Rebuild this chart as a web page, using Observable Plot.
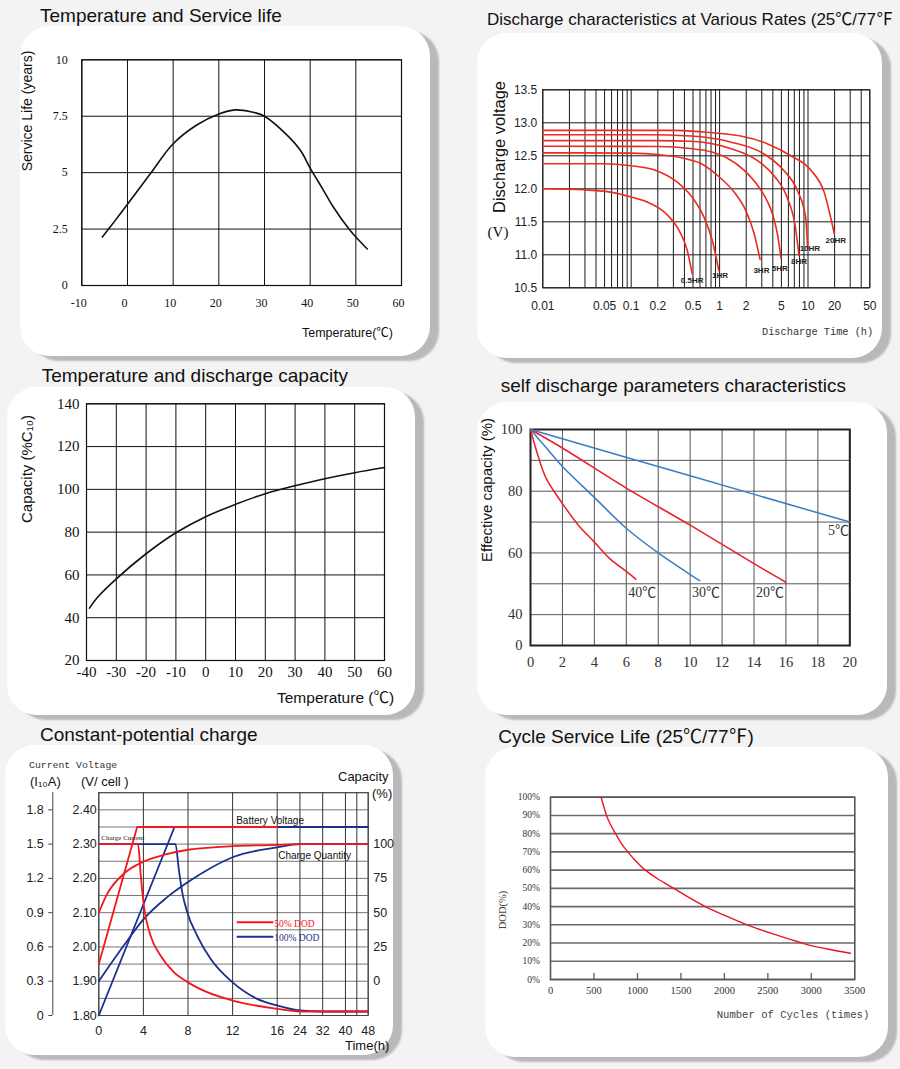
<!DOCTYPE html>
<html>
<head>
<meta charset="utf-8">
<script src="https://cdn.jsdelivr.net/npm/d3@7"></script>
<script src="https://cdn.jsdelivr.net/npm/@observablehq/plot@0.6"></script>
<style>
html,body{margin:0;padding:0;}
body{width:900px;height:1069px;background:#f3f3f3;position:relative;overflow:hidden;font-family:"Liberation Sans",Arial,"Noto Sans CJK SC",sans-serif;}
#root{position:absolute;left:0;top:0;width:900px;height:1069px;}
.card{position:absolute;background:#fff;border-radius:30px;box-shadow:9px 5px 2px #b9b9b9;}
.plot{position:absolute;}
.plot svg{overflow:visible;}
#overlay{position:absolute;left:0;top:0;z-index:5;pointer-events:none;}
</style>
</head>
<body>
<div id="root"></div>
<script>
// ---------------- DATA ----------------
// Panel 1: Temperature and Service life
const lifeTemp  = [-5.5, -2.5, 0, 5, 10, 15, 20, 23.6, 27, 30, 35, 38, 40, 42.5, 45, 48.5, 50, 52.5];
const lifeYears = [2.15, 2.93, 3.6, 4.95, 6.28, 7.09, 7.6, 7.78, 7.7, 7.5, 6.65, 5.95, 5.2, 4.36, 3.5, 2.5, 2.15, 1.62];
const lifeXTicks = [-10, 0, 10, 20, 30, 40, 50, 60];
const lifeYTicks = [0, 2.5, 5, 7.5, 10];

// Panel 2: Discharge characteristics at various rates
const rateNames = ["0.5HR", "1HR", "3HR", "5HR", "8HR", "10HR", "20HR"];
const dis05T = [0.01, 0.029, 0.058, 0.098, 0.152, 0.245, 0.347, 0.43, 0.49];
const dis05V = [12.0, 11.985, 11.95, 11.88, 11.80, 11.63, 11.37, 11.07, 10.71];
const dis1T  = [0.01, 0.049, 0.098, 0.197, 0.332, 0.49, 0.665, 0.826, 0.98];
const dis1V  = [12.38, 12.38, 12.35, 12.27, 12.10, 11.87, 11.57, 11.22, 10.76];
const dis3T  = [0.01, 0.1, 0.2, 0.4, 0.6, 0.95, 1.46, 1.98, 2.46, 2.87];
const dis3V  = [12.545, 12.54, 12.52, 12.46, 12.39, 12.2, 11.95, 11.67, 11.32, 10.93];
const dis5T  = [0.01, 0.2, 0.47, 0.8, 1.2, 1.9, 2.8, 3.5, 4.0, 4.5, 4.95];
const dis5V  = [12.645, 12.64, 12.61, 12.56, 12.47, 12.28, 12.02, 11.8, 11.6, 11.32, 10.95];
const dis8T  = [0.01, 0.2, 0.472, 1.33, 2.66, 4.1, 5.8, 7.2, 7.9];
const dis8V  = [12.73, 12.73, 12.72, 12.61, 12.43, 12.20, 11.87, 11.42, 10.99];
const dis10T = [0.01, 0.15, 0.472, 1.33, 3.17, 5.3, 7.6, 9.4, 9.9];
const dis10V = [12.82, 12.82, 12.80, 12.71, 12.53, 12.28, 11.97, 11.57, 11.1];
const dis20T = [0.01, 0.3, 0.66, 1.2, 1.73, 3.5, 6.4, 10.8, 15.2, 19.8];
const dis20V = [12.885, 12.885, 12.86, 12.83, 12.80, 12.68, 12.50, 12.28, 11.95, 11.32];
const rateLabelT = [0.49, 1.01, 2.97, 4.8, 7.9, 10.5, 20.6];
const rateLabelV = [10.61, 10.69, 10.77, 10.80, 10.90, 11.09, 11.22];
const disXTicks = [0.01, 0.05, 0.1, 0.2, 0.5, 1, 2, 5, 10, 20, 50];
const disYTicks = [10.5, 11.0, 11.5, 12.0, 12.5, 13.0, 13.5];

// Panel 3: Temperature and discharge capacity
const capTemp = [-39, -36, -30, -20, -10, 0, 10, 20, 30, 40, 50, 60];
const capPct  = [44.5, 50, 58.2, 69.9, 79.7, 87.2, 93, 98, 101.7, 105, 107.8, 110.2];
const capXTicks = [-40, -30, -20, -10, 0, 10, 20, 30, 40, 50, 60];
const capYTicks = [20, 40, 60, 80, 100, 120, 140];

// Panel 4: self discharge
const sd5M  = [0, 10, 20];
const sd5V  = [100, 85, 70];
const sd20M = [0, 2, 6, 10, 14, 16];
const sd20V = [100, 94, 81, 69, 56.5, 50.5];
const sd30M = [0, 1, 2, 4, 6, 8, 10, 10.6];
const sd30V = [100, 94, 88, 78, 68, 60, 53, 51];
const sd40M = [0, 0.5, 1, 2, 3, 4, 5, 6, 6.6];
const sd40V = [100, 91, 84, 76, 69, 63.5, 58, 54, 51.5];
const sdLabels = ["40℃", "30℃", "20℃", "5℃"];
const sdLabelM = [7, 11, 15, 19.3];
const sdLabelV = [47.3, 47.3, 47.3, 67.3];
const sdXTicks = [0, 2, 4, 6, 8, 10, 12, 14, 16, 18, 20];
const sdYGrid  = [30, 40, 50, 60, 70, 80, 90, 100];
const sdYTicks = [30, 40, 60, 80, 100];

// Panel 5: Constant-potential charge
const cpTimeDomain = [0, 16, 48];
const cpTimeTicks = [0, 4, 8, 12, 16, 24, 32, 40, 48];
const cpTimeGrid  = [0, 4, 8, 12, 16, 24, 32, 40, 44, 48];
const cpVoltDomain = [1.80, 2.45];
const cpVoltTicks = [1.8, 1.9, 2.0, 2.1, 2.2, 2.3, 2.4];
const cpVoltGrid = [1.80, 1.85, 1.90, 1.95, 2.00, 2.05, 2.10, 2.15, 2.20, 2.25, 2.30, 2.35, 2.40, 2.45];
const cpCapTicks = [1.9, 2.0, 2.1, 2.2, 2.3];
const redCurT = [0, 3.5, 3.62, 3.74, 4.04, 4.64, 5.53, 6.73, 8.0, 9.72, 12.0, 16, 24, 48];
const redCurI = [1.5, 1.5, 1.42, 1.254, 0.963, 0.70, 0.525, 0.379, 0.29, 0.204, 0.131, 0.058, 0.035, 0.035];
const blueCurT = [0, 6.88, 7.17, 7.48, 7.93, 8.82, 10.02, 12.0, 14.2, 16, 24, 32, 48];
const blueCurI = [1.5, 1.5, 1.284, 1.079, 0.904, 0.70, 0.496, 0.29, 0.146, 0.088, 0.044, 0.035, 0.035];
const redVoltT = [0, 3.44, 16];
const redVoltV = [1.95, 2.35, 2.35];
const blueVoltT = [0, 6.79, 48];
const blueVoltV = [1.80, 2.35, 2.35];
const redQtyT = [0, 0.67, 2.24, 4.04, 6.0, 8.0, 12, 16, 24, 48];
const redQtyC = [50, 62.5, 78.4, 87.3, 92.5, 95.9, 98.5, 99.4, 100, 100];
const blueQtyT = [0, 2.24, 4.04, 6, 8, 10, 12, 16, 24, 48];
const blueQtyC = [0, 26, 45.5, 60.4, 72.3, 82.4, 90.4, 97.7, 100, 100];
const cpNotes = ["Battery Voltage", "Charge Quantity"];
const cpNoteT = [12.32, 16.35];
const cpNoteV = [2.369, 2.267];

// Panel 6: Cycle service life
const cycles = [583, 612, 644, 690, 748, 810, 889, 980, 1090, 1240, 1418, 1590, 1780, 2010, 2261, 2560, 2893, 3000, 3200, 3450];
const dod    = [100, 95, 90, 85, 80, 75, 70, 65, 60, 55, 50, 45, 40, 35, 30, 25, 20, 18.6, 16.6, 14.4];
const cycXTicks = [0, 500, 1000, 1500, 2000, 2500, 3000, 3500];
const cycXMarks = [500, 1000, 1500, 2000, 2500, 3000];
const cycYTicks = [0, 10, 20, 30, 40, 50, 60, 70, 80, 90, 100];

// ---------------- HELPERS ----------------
const SANS = '"Liberation Sans", Arial, "Noto Sans CJK SC", sans-serif';
const SERIF = '"Liberation Serif", "Times New Roman", "Noto Sans CJK SC", serif';
const MONO = '"Liberation Mono", "DejaVu Sans Mono", monospace';
const CJK = '"Noto Sans CJK SC", sans-serif';
const NS = "http://www.w3.org/2000/svg";
const root = document.getElementById("root");
const zip = (xs, ys, kx, ky) => xs.map((x, i) => ({[kx]: x, [ky]: ys[i]}));
const plain = d => String(d).replace("\u2212", "-");

function card(x, y, w, h) {
  const d = document.createElement("div");
  d.className = "card";
  Object.assign(d.style, {left: x + "px", top: y + "px", width: w + "px", height: h + "px"});
  root.appendChild(d);
}
function place(svg, x, y) {
  const d = document.createElement("div");
  d.className = "plot";
  d.style.left = x + "px"; d.style.top = y + "px";
  d.appendChild(svg);
  root.appendChild(d);
}
const overlay = document.createElementNS(NS, "svg");
overlay.setAttribute("id", "overlay");
overlay.setAttribute("width", 900);
overlay.setAttribute("height", 1069);
function label(txt, x, y, o = {}) {
  const t = document.createElementNS(NS, "text");
  const parts = txt.split(/([℃℉])/);
  for (const p of parts) {
    if (!p) continue;
    const s = document.createElementNS(NS, "tspan");
    s.textContent = p;
    if (p === "℃" || p === "℉") s.setAttribute("font-family", CJK);
    t.appendChild(s);
  }
  t.setAttribute("font-family", o.family || SANS);
  t.setAttribute("font-size", o.size || 12);
  t.setAttribute("fill", o.fill || "#111");
  if (o.anchor) t.setAttribute("text-anchor", o.anchor);
  if (o.rotate) { t.setAttribute("transform", `translate(${x},${y}) rotate(${o.rotate})`); }
  else { t.setAttribute("x", x); t.setAttribute("y", y); }
  overlay.appendChild(t);
  return t;
}
function seg(x1, y1, x2, y2, stroke, w) {
  const l = document.createElementNS(NS, "line");
  l.setAttribute("x1", x1); l.setAttribute("y1", y1); l.setAttribute("x2", x2); l.setAttribute("y2", y2);
  l.setAttribute("stroke", stroke); l.setAttribute("stroke-width", w);
  overlay.appendChild(l);
}

// ---------------- CARDS ----------------
card(20, 26, 410, 330);
card(477, 33, 405, 325);
card(7, 387, 408, 328);
card(477, 402, 410, 313);
card(5, 745, 388, 310);
card(485, 747, 403, 310);

// ---------------- PANEL 1 ----------------
place(Plot.plot({
  width: 440, height: 334, marginLeft: 81.3, marginRight: 39, marginTop: 33.3, marginBottom: 75,
  x: {domain: [-10, 60], label: null},
  y: {domain: [0, 10], label: null},
  style: {fontFamily: SERIF, fontSize: "12px", background: "transparent", color: "#111"},
  marks: [
    Plot.gridX(lifeXTicks, {stroke: "#111", strokeOpacity: 1, strokeWidth: 1}),
    Plot.gridY(lifeYTicks, {stroke: "#111", strokeOpacity: 1, strokeWidth: 1}),
    Plot.frame({stroke: "#111", strokeWidth: 1.2}),
    Plot.axisX(lifeXTicks, {tickSize: 0, tickPadding: 13, label: null, dx: -3, tickFormat: plain}),
    Plot.axisY(lifeYTicks, {tickSize: 0, tickPadding: 14, label: null, tickFormat: plain}),
    Plot.line(zip(lifeTemp, lifeYears, "t", "v"), {x: "t", y: "v", curve: "catmull-rom", stroke: "#111", strokeWidth: 1.6})
  ]
}), 0, 26);

// ---------------- PANEL 2 ----------------
const disCurves = [
  [dis05T, dis05V], [dis1T, dis1V], [dis3T, dis3V], [dis5T, dis5V],
  [dis8T, dis8V], [dis10T, dis10V], [dis20T, dis20V]
].flatMap(([ts, vs], k) => ts.map((t, i) => ({rate: rateNames[k], t, v: vs[i]})));
const disGrid = [];
for (const base of [0.01, 0.1, 1, 10]) for (let m = 1; m <= 9; m++) { const g = +(base * m).toPrecision(3); if (g <= 50) disGrid.push(g); }
place(Plot.plot({
  width: 410, height: 325, marginLeft: 65.3, marginRight: 17.7, marginTop: 56.3, marginBottom: 70.7,
  x: {type: "log", domain: [0.01, 50], label: null, axis: null},
  y: {domain: [10.5, 13.5], label: null},
  style: {fontFamily: SANS, fontSize: "11.5px", background: "transparent", color: "#222"},
  marks: [
    Plot.gridX(disGrid, {stroke: "#1a1a1a", strokeOpacity: 1, strokeWidth: 1}),
    Plot.gridY(disYTicks, {stroke: "#1a1a1a", strokeOpacity: 1, strokeWidth: 1}),
    Plot.frame({stroke: "#1a1a1a"}),
    Plot.text(disXTicks, {x: d => d, frameAnchor: "bottom", lineAnchor: "top", dy: 14, text: d => String(d), fontSize: 12, fill: "#222"}),
    Plot.axisY(disYTicks, {tickSize: 0, tickPadding: 5.5, label: null, fontSize: 12, tickFormat: d => d.toFixed(1)}),
    Plot.line(disCurves, {x: "t", y: "v", z: "rate", curve: "monotone-x", stroke: "#ec2b20", strokeWidth: 1.6}),
    Plot.text(rateNames, {x: (d, i) => rateLabelT[i], y: (d, i) => rateLabelV[i], text: d => d, fontSize: 8, fontWeight: "bold", fill: "#222", fontFamily: SANS})
  ]
}), 477, 33);

// ---------------- PANEL 3 ----------------
place(Plot.plot({
  width: 416, height: 333, marginLeft: 79, marginRight: 39, marginTop: 16.3, marginBottom: 60,
  x: {domain: [-40, 60], label: null},
  y: {domain: [20, 140], label: null},
  style: {fontFamily: SERIF, fontSize: "15px", background: "transparent", color: "#111"},
  marks: [
    Plot.gridX(capXTicks, {stroke: "#111", strokeOpacity: 1, strokeWidth: 1}),
    Plot.gridY(capYTicks, {stroke: "#111", strokeOpacity: 1, strokeWidth: 1}),
    Plot.frame({stroke: "#111", strokeWidth: 1.2}),
    Plot.axisX(capXTicks, {tickSize: 0, tickPadding: 6, label: null, tickFormat: plain}),
    Plot.axisY(capYTicks, {tickSize: 0, tickPadding: 7, label: null, tickFormat: plain}),
    Plot.line(zip(capTemp, capPct, "t", "c"), {x: "t", y: "c", curve: "catmull-rom", stroke: "#111", strokeWidth: 1.6})
  ]
}), 7, 387);

// ---------------- PANEL 4 ----------------
const sdCurves = [
  {name: "40", ms: sd40M, vs: sd40V, color: "#e8202a"},
  {name: "30", ms: sd30M, vs: sd30V, color: "#3b7dc4"},
  {name: "20", ms: sd20M, vs: sd20V, color: "#e8202a"},
  {name: "5", ms: sd5M, vs: sd5V, color: "#3b7dc4"}
];
place(Plot.plot({
  width: 421, height: 315, marginLeft: 53, marginRight: 48.7, marginTop: 27, marginBottom: 72,
  x: {domain: [0, 20], label: null},
  y: {domain: [30, 100], label: null},
  style: {fontFamily: SERIF, fontSize: "14.5px", background: "transparent", color: "#333"},
  marks: [
    Plot.gridX(sdXTicks, {stroke: "#555", strokeOpacity: 1, strokeWidth: 1}),
    Plot.gridY(sdYGrid, {stroke: "#555", strokeOpacity: 1, strokeWidth: 1}),
    Plot.frame({stroke: "#222", strokeWidth: 2}),
    Plot.axisX(sdXTicks, {tickSize: 0, tickPadding: 11, label: null, tickFormat: plain}),
    Plot.axisY(sdYTicks, {tickSize: 0, tickPadding: 8, label: null, tickFormat: d => d === 30 ? "0" : String(d)}),
    ...sdCurves.map(c => Plot.line(zip(c.ms, c.vs, "m", "v"), {x: "m", y: "v", curve: "catmull-rom", stroke: c.color, strokeWidth: 1.5})),
    Plot.text(sdLabels, {x: (d, i) => sdLabelM[i], y: (d, i) => sdLabelV[i], text: d => d, fontSize: 14, fill: "#333", fontFamily: SERIF})
  ]
}), 477, 402);

// ---------------- PANEL 5 ----------------
const ampToVolt = a => 1.8 + a / 3;
const capToVolt = c => 1.9 + c / 250;
const cpW = 395, cpML = 93.3, cpMR = 32.3;
const RED = "#f5161b", NAVY = "#1d2f8e";
place(Plot.plot({
  width: cpW, height: 315, marginLeft: cpML, marginRight: cpMR, marginTop: 47.2, marginBottom: 45,
  x: {type: "linear", domain: cpTimeDomain, range: [cpML, cpML + 178.4, cpW - cpMR], label: null},
  y: {domain: cpVoltDomain, label: null},
  style: {fontFamily: SANS, fontSize: "12.5px", background: "transparent", color: "#222"},
  marks: [
    Plot.gridY(cpVoltGrid, {stroke: "#666", strokeOpacity: 1, strokeWidth: 0.9}),
    Plot.gridX(cpTimeGrid, {stroke: "#333", strokeOpacity: 1, strokeWidth: 1}),
    Plot.frame({stroke: "#444"}),
    Plot.axisX(cpTimeTicks, {tickSize: 0, tickPadding: 11, label: null, tickFormat: plain}),
    Plot.axisY(cpVoltTicks, {anchor: "left", tickSize: 0, tickPadding: 2, label: null, tickFormat: d => d.toFixed(2)}),
    Plot.axisY(cpVoltTicks, {anchor: "left", dx: -46, tickSize: 4, tickPadding: 5, label: null, stroke: "#444",
      tickFormat: d => { const a = Math.round((d - 1.8) * 30) / 10; return a === 0 ? "0" : a.toFixed(1); }}),
    Plot.ruleX([cpTimeDomain[0]], {dx: -46, y1: cpVoltDomain[0], y2: cpVoltDomain[1], stroke: "#444"}),
    Plot.axisY(cpCapTicks, {anchor: "right", tickSize: 0, tickPadding: 5, label: null,
      tickFormat: d => String(Math.round((d - 1.9) * 250))}),
    Plot.line(zip(blueVoltT, blueVoltV, "t", "v"), {x: "t", y: "v", stroke: NAVY, strokeWidth: 1.8}),
    Plot.line(zip(blueCurT, blueCurI, "t", "a"), {x: "t", y: d => ampToVolt(d.a), curve: "monotone-x", stroke: NAVY, strokeWidth: 1.8}),
    Plot.line(zip(blueQtyT, blueQtyC, "t", "c"), {x: "t", y: d => capToVolt(d.c), curve: "monotone-x", stroke: NAVY, strokeWidth: 1.8}),
    Plot.line(zip(redVoltT, redVoltV, "t", "v"), {x: "t", y: "v", stroke: RED, strokeWidth: 1.8}),
    Plot.line(zip(redCurT, redCurI, "t", "a"), {x: "t", y: d => ampToVolt(d.a), curve: "monotone-x", stroke: RED, strokeWidth: 1.8}),
    Plot.line(zip(redQtyT, redQtyC, "t", "c"), {x: "t", y: d => capToVolt(d.c), curve: "monotone-x", stroke: RED, strokeWidth: 1.8}),
    Plot.text(cpNotes, {x: (d, i) => cpNoteT[i], y: (d, i) => cpNoteV[i], text: d => d, textAnchor: "start", fontSize: 10, fill: "#111", fontFamily: SANS}),
    Plot.text(["Charge Current"], {x: cpTimeDomain[0], y: ampToVolt(1.5), dx: 2.5, dy: -6, text: d => d, textAnchor: "start", fontSize: 7, fill: "#222", fontFamily: SERIF})
  ]
}), 5, 745);

// ---------------- PANEL 6 ----------------
place(Plot.plot({
  width: 415, height: 313, marginLeft: 65, marginRight: 45.7, marginTop: 49.7, marginBottom: 81,
  x: {domain: [0, 3500], label: null},
  y: {domain: [0, 100], label: null},
  style: {fontFamily: SERIF, fontSize: "10.5px", background: "transparent", color: "#333"},
  marks: [
    Plot.gridY(cycYTicks, {stroke: "#6a6a6a", strokeOpacity: 1, strokeWidth: 1.6}),
    Plot.frame({stroke: "#555", strokeWidth: 1.6}),
    Plot.axisX(cycXMarks, {tickSize: 6, dy: -6, tickFormat: () => "", label: null, stroke: "#666", strokeWidth: 1.4}),
    Plot.axisX(cycXTicks, {tickSize: 0, tickPadding: 7, label: null, tickFormat: d => String(d)}),
    Plot.axisY(cycYTicks, {tickSize: 0, tickPadding: 10.7, label: null, fontSize: 9.5, tickFormat: d => d + "%"}),
    Plot.line(zip(cycles, dod, "n", "d"), {x: "n", y: "d", curve: "catmull-rom", stroke: "#ea1520", strokeWidth: 1.4})
  ]
}), 485, 747);

// ---------------- TITLES & AXIS TITLES ----------------
label("Temperature and Service life", 40, 22.3, {size: 19});
label("Discharge characteristics at Various Rates (25℃/77℉", 487, 25, {size: 17});
label("Temperature and discharge capacity", 41.7, 381.7, {size: 19});
label("self discharge parameters characteristics", 500.7, 391.7, {size: 19});
label("Constant-potential charge", 40, 741, {size: 19});
label("Cycle Service Life (25℃/77℉)", 498.3, 743.3, {size: 19});

label("Service Life (years)", 32, 111, {size: 14, rotate: -90, anchor: "middle"});
label("Temperature(℃)", 302, 337, {size: 12.5});
label("Discharge voltage", 505, 147, {size: 16.5, rotate: -90, anchor: "middle"});
label("(V)", 498, 237, {size: 15, family: SERIF, anchor: "middle"});
label("Discharge Time (h)", 762, 335, {size: 10.3, family: MONO, fill: "#333"});
label("Capacity (%C₁₀)", 32, 469, {size: 15, rotate: -90, anchor: "middle"});
label("Temperature (℃)", 277, 703, {size: 15.5});
label("Effective capacity (%)", 492, 490, {size: 15, rotate: -90, anchor: "middle"});
label("Current Voltage", 29, 767.7, {size: 9.8, family: MONO, fill: "#333"});
label("(I₁₀A)", 30, 785.7, {size: 13});
label("(V/ cell )", 81, 785.7, {size: 13});
label("Capacity", 338, 781, {size: 13});
label("(%)", 372, 797.7, {size: 13});
label("Time(h)", 345, 1050, {size: 13});
seg(236.7, 922.3, 273.3, 922.3, RED, 2);
seg(236.7, 936.7, 273.3, 936.7, NAVY, 2);
label("50% DOD", 274.3, 926.7, {size: 9.5, family: SERIF, fill: RED});
label("100% DOD", 274.3, 941, {size: 9.5, family: SERIF, fill: NAVY});
label("Number of Cycles (times)", 716.7, 1017.7, {size: 10.6, family: MONO, fill: "#444"});
label("DOD(%)", 506, 910, {size: 10.5, family: SERIF, rotate: -90, anchor: "middle", fill: "#444"});

root.appendChild(overlay);
</script>
</body>
</html>
